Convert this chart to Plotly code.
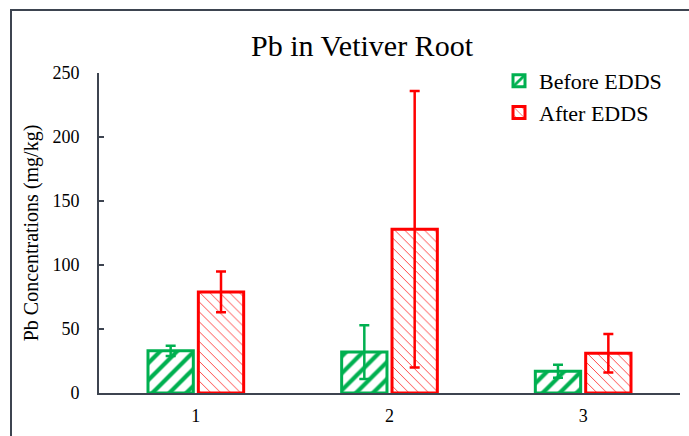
import plotly.graph_objects as go

# Pb concentrations in vetiver root, before and after EDDS application
categories = ["1", "2", "3"]
before_vals = [33, 32, 17]
before_err = [4, 21, 5]
after_vals = [79, 128, 31]
after_err = [16, 108, 15]

green = "#00B050"
red = "#FF0000"
axis_col = "#3D4450"
serif = "Liberation Serif, Times New Roman, serif"

W, H = 689, 436
ml, mr, mt, mb = 99, 9, 73, 43
pw, ph = W - ml - mr, H - mt - mb

fig = go.Figure()
fig.add_trace(go.Bar(
    name="Before EDDS", x=categories, y=before_vals,
    marker=dict(color="white", line=dict(color=green, width=3),
                pattern=dict(shape="/", fgcolor=green, bgcolor="white",
                             fgopacity=1, size=12, solidity=0.35)),
    error_y=dict(type="data", array=before_err, color=green,
                 thickness=2.5, width=5),
))
fig.add_trace(go.Bar(
    name="After EDDS", x=categories, y=after_vals,
    marker=dict(color="white", line=dict(color=red, width=3),
                pattern=dict(shape="\\", fgcolor=red, bgcolor="white",
                             fgopacity=0.85, size=7, solidity=0.12)),
    error_y=dict(type="data", array=after_err, color=red,
                 thickness=2.5, width=5),
))

def px_x(p):
    return (p - ml) / pw

def px_y(p):
    return (H - mb - p) / ph

fig.update_layout(
    width=W, height=H,
    margin=dict(l=ml, r=mr, t=mt, b=mb),
    paper_bgcolor="white", plot_bgcolor="white",
    barmode="group", bargap=0.48, bargroupgap=0.1,
    font=dict(family=serif, color="black"),
    title=dict(text="Pb in Vetiver Root", x=px_x(362), xref="paper",
               xanchor="center", y=1 - 45 / H, yanchor="middle",
               font=dict(size=30, family=serif, color="black")),
    legend=dict(x=px_x(499), y=px_y(60), xref="paper", yref="paper",
                xanchor="left", yanchor="top",
                font=dict(size=22, family=serif, color="black"),
                bgcolor="rgba(0,0,0,0)", itemwidth=30, tracegroupgap=4),
    showlegend=True,
    xaxis=dict(showline=True, linecolor=axis_col, linewidth=2,
               ticks="", showgrid=False, ticklabelstandoff=5,
               tickfont=dict(size=18, family=serif, color="black")),
    yaxis=dict(range=[0, 250], dtick=50, showline=True, linecolor=axis_col,
               linewidth=2, ticks="inside", ticklen=5, tickwidth=2,
               tickcolor=axis_col, showgrid=False, zeroline=False,
               ticklabelstandoff=14,
               tickfont=dict(size=18, family=serif, color="black"),
               title=dict(text="Pb Concentrations (mg/kg)", standoff=8,
                          font=dict(size=20, family=serif, color="black"))),
    shapes=[dict(type="rect", xref="paper", yref="paper",
                 x0=px_x(11), x1=px_x(700), y0=px_y(450), y1=px_y(10),
                 line=dict(color=axis_col, width=2), layer="below")],
)

fig.write_html("out.html")
